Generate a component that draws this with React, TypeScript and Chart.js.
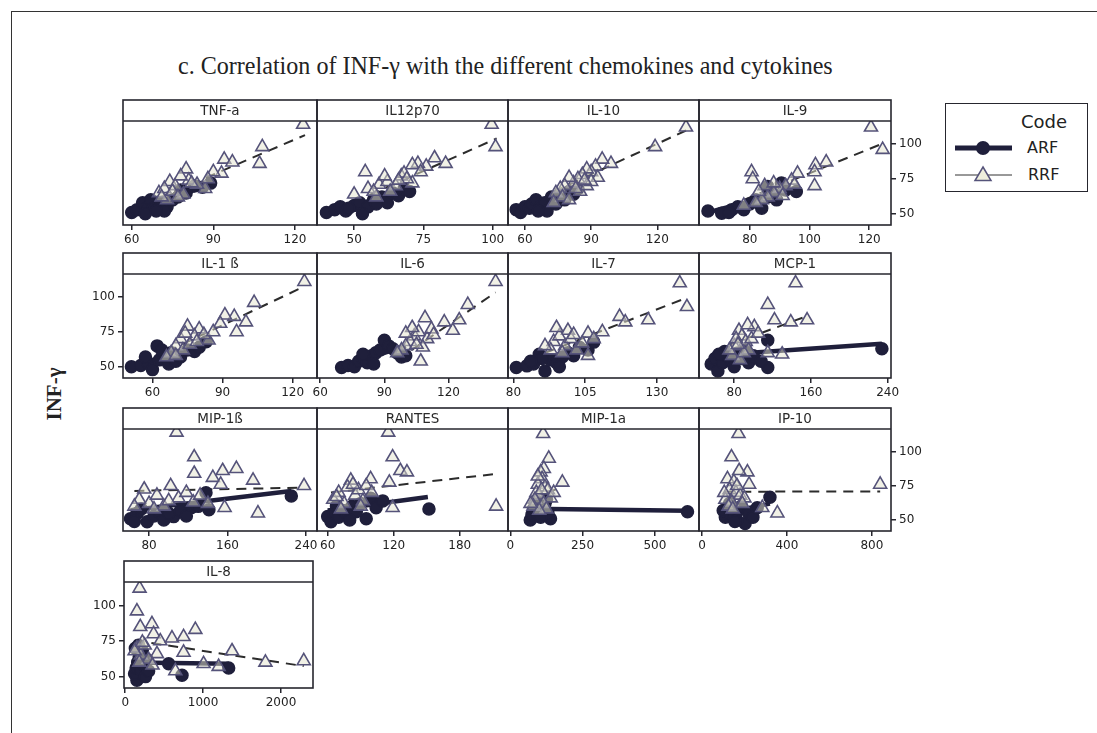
import React, { useEffect, useRef } from "react";
import { Chart, registerables } from "chart.js";

Chart.register(...registerables);

type Pt = [number, number];
type Fit = [number, number, number, number];

// INF-γ axis (shared by every panel)
const yTicks = [50, 75, 100];
const Y_MIN = 42;
const Y_MAX = 116.5;

// TNF-a
const tnfTicks = [60, 90, 120];
const tnfRrf: Pt[] = [[123, 114], [108, 98], [107, 86], [94, 89], [97, 87], [93, 79], [87, 68], [80, 82], [81, 74], [74, 73], [70, 65], [79, 64], [76, 70], [72, 68], [78, 77], [84, 71], [90, 80], [88, 75], [73, 60], [75, 66], [82, 72], [77, 62], [71, 62]];
const tnfArf: Pt[] = [[60, 51], [62, 53], [64, 58], [66, 55], [67, 60], [68, 54], [70, 56], [71, 58], [73, 55], [75, 60], [77, 62], [80, 65], [83, 70], [86, 69], [89, 72], [72, 52], [65, 50], [78, 67], [69, 52]];
const tnfArfFit: Fit = [60, 52, 89, 71];
const tnfRrfFit: Fit = [70, 61.4, 123.7, 106.4];

// IL12p70
const il12Ticks = [50, 75, 100];
const il12Rrf: Pt[] = [[99.6, 114], [101, 98], [83, 86], [79, 90], [76, 84], [73, 86], [71, 72], [54, 80], [50, 64], [59, 71], [67, 77], [71, 85], [55, 68], [62, 73], [65, 70], [68, 79], [58, 62], [63, 66], [69, 75], [74, 80], [61, 77], [57, 66], [66, 74]];
const il12Arf: Pt[] = [[40, 51], [43, 53], [45, 55], [47, 52], [50, 56], [52, 58], [55, 55], [57, 60], [60, 62], [62, 58], [64, 65], [66, 63], [68, 68], [70, 66], [53, 50], [58, 57], [48, 54]];
const il12ArfFit: Fit = [40, 51, 70, 67];
const il12RrfFit: Fit = [50, 58.6, 101.4, 104];

// IL-10
const il10Ticks = [60, 90, 120];
const il10Rrf: Pt[] = [[133, 112], [119, 98], [99, 86], [95, 89], [92, 84], [90, 80], [88, 82], [86, 78], [84, 75], [82, 72], [80, 76], [78, 70], [76, 68], [74, 65], [77, 62], [80, 60], [85, 66], [88, 70], [93, 76], [90, 73], [83, 68], [73, 58], [87, 74]];
const il10Arf: Pt[] = [[56, 53], [58, 51], [60, 55], [62, 54], [63, 57], [65, 60], [67, 55], [69, 58], [70, 52], [72, 62], [74, 57], [76, 63], [78, 60], [80, 66], [82, 64], [84, 68], [66, 52]];
const il10ArfFit: Fit = [56, 52, 84, 67];
const il10RrfFit: Fit = [73, 65.9, 133, 109.7];

// IL-9
const il9Ticks = [80, 100, 120];
const il9Rrf: Pt[] = [[120.6, 112], [124.5, 96], [105.6, 87], [102, 85], [101.7, 80], [101.7, 70], [80.6, 80], [81, 75], [96, 79], [94, 74], [92, 70], [90, 68], [88, 65], [86, 62], [84, 60], [82, 58], [85, 70], [88, 72], [91, 63], [78, 56], [83, 66], [95, 71]];
const il9Arf: Pt[] = [[66, 52], [70.6, 50.5], [74, 53], [78, 53], [80, 57], [84, 54], [82, 60], [86, 62], [86, 69.6], [88, 64], [90.6, 72], [92, 67], [95.6, 66], [76, 55], [73, 51], [89, 60]];
const il9ArfFit: Fit = [66, 51, 96, 68];
const il9RrfFit: Fit = [78, 60, 123.3, 99.3];

// IL-1 ß
const il1bTicks = [60, 90, 120];
const il1bRrf: Pt[] = [[125, 111], [103.5, 96], [96, 75], [100, 82], [95, 86], [91, 87], [89, 81], [80, 77], [75, 79], [84, 69], [78, 72], [72, 70], [70, 65], [68, 60], [73, 62], [76, 66], [82, 73], [86, 75], [66, 57], [70, 58], [79, 68], [74, 74]];
const il1bArf: Pt[] = [[51, 50], [55, 51], [58, 53], [60, 48], [62, 65], [63, 55], [65, 58], [67, 52], [68, 60], [70, 54], [72, 57], [75, 62], [78, 61], [80, 64], [83, 68], [57, 57], [64, 62]];
const il1bArfFit: Fit = [51, 50, 83, 67];
const il1bRrfFit: Fit = [66, 60.9, 125, 107.6];

// IL-6
const il6Ticks = [60, 90, 120];
const il6Rrf: Pt[] = [[142, 111], [129, 94.5], [125, 83.5], [122, 76], [118, 82], [109, 85], [107, 54], [104, 72], [102, 68], [100, 65], [98, 62], [106, 75], [110, 70], [112, 77], [96, 60], [103, 78], [108, 64], [113, 73], [100, 74], [105, 66]];
const il6Arf: Pt[] = [[70, 49.5], [73, 51], [76, 50], [78, 54], [80, 56], [82, 53], [84, 58], [86, 60], [88, 62], [90, 69], [92, 65], [94, 63], [96, 60], [98, 57], [85, 52], [80, 59], [100, 58]];
const il6ArfFit: Fit = [70, 50, 100, 65];
const il6RrfFit: Fit = [96, 55, 142, 103.3];

// IL-7
const il7Ticks = [80, 105, 130];
const il7Rrf: Pt[] = [[138, 110], [140.5, 93], [127, 83.5], [117, 86], [119, 82], [111, 75], [106, 74], [99, 76], [106, 58], [94, 68], [96, 72], [98, 65], [100, 70], [102, 62], [104, 67], [93, 62], [97, 60], [101, 73], [95, 78], [108, 70], [91, 65]];
const il7Arf: Pt[] = [[81, 49.5], [84.7, 50.7], [87, 52], [89, 59], [91, 47], [93, 55], [95, 53], [97, 57], [99, 60], [101, 58], [103, 64], [106, 62], [108, 67.7], [90, 56], [96, 50], [86, 54]];
const il7ArfFit: Fit = [81, 50, 108, 66];
const il7RrfFit: Fit = [91, 60, 140.5, 99.5];

// MCP-1
const mcpTicks = [80, 160, 240];
const mcpRrf: Pt[] = [[144, 110], [115, 94.5], [122, 83.5], [139, 82], [156, 83.5], [101, 78.6], [85, 76], [115, 60], [130, 59], [88, 72], [92, 68], [80, 65], [95, 62], [78, 58], [86, 55], [98, 70], [82, 70], [90, 60], [105, 74], [75, 62], [94, 80], [84, 66]];
const mcpArf: Pt[] = [[234, 63], [115, 49.5], [56, 52], [63, 47], [115, 69], [60, 56], [68, 53], [72, 58], [76, 55], [80, 50], [84, 60], [88, 56], [95, 53], [100, 58], [108, 54], [70, 61], [92, 62], [64, 59]];
const mcpArfFit: Fit = [56, 58.1, 234, 66.5];
const mcpRrfFit: Fit = [75, 65.8, 156, 86.4];

// MIP-1ß
const mip1bTicks = [80, 160, 240];
const mip1bRrf: Pt[] = [[108, 114], [126, 96], [126, 84], [145, 81], [155, 86], [169, 87.5], [153, 76], [186, 79], [238, 75], [157, 59], [191, 55], [75, 72.5], [102, 75], [70, 65], [80, 62], [88, 68], [95, 60], [110, 66], [118, 70], [125, 63], [132, 68], [140, 62], [85, 58], [100, 64], [65, 60]];
const mip1bArf: Pt[] = [[225, 67.5], [61, 51], [78, 48.7], [138, 70], [141, 57.5], [123, 59], [105, 52.5], [68, 55], [72, 58], [85, 53], [90, 56], [95, 50], [100, 55], [112, 57], [118, 53], [130, 60], [65, 49]];
const mip1bArfFit: Fit = [61, 57.1, 225, 71.2];
const mip1bRrfFit: Fit = [65, 71.3, 238, 73.7];

// RANTES
const rantesTicks = [60, 120, 180];
const rantesRrf: Pt[] = [[115, 114], [119, 96], [126, 86], [132, 85], [116, 77.5], [119, 59], [99, 80], [81, 79], [213, 60], [65, 65], [70, 70], [75, 62], [78, 74], [85, 68], [88, 72], [92, 64], [95, 75], [72, 58], [68, 67], [90, 60], [83, 76], [100, 70]];
const rantesArf: Pt[] = [[60, 52.5], [63, 48.7], [95, 51], [99, 66], [152, 58], [66, 55], [70, 52], [74, 57], [78, 54], [82, 60], [86, 56], [90, 62], [104, 59], [110, 64], [68, 60], [80, 50]];
const rantesArfFit: Fit = [60, 57, 151, 66.8];
const rantesRrfFit: Fit = [63, 70.1, 213, 83.7];

// MIP-1a
const mip1aTicks = [0, 250, 500];
const mip1aRrf: Pt[] = [[113.5, 113], [133, 95], [180, 77.5], [116, 87.5], [105, 85], [110, 80], [95, 76], [120, 74], [90, 70], [100, 68], [130, 72], [85, 65], [140, 66], [115, 62], [80, 60], [125, 58], [100, 57], [70, 62], [150, 70], [95, 82], [108, 72]];
const mip1aArf: Pt[] = [[69, 50], [139, 51], [613, 56], [75, 54], [85, 57], [95, 53], [100, 60], [110, 56], [120, 62], [130, 55], [90, 64], [80, 58], [105, 52], [115, 59], [125, 65]];
const mip1aArfFit: Fit = [69, 58.3, 613, 56.8];
const mip1aRrfFit: Fit = [70, 66, 180, 74];

// IP-10
const ip10Ticks = [0, 400, 800];
const ip10Rrf: Pt[] = [[172, 113], [139, 96], [214, 85], [175, 86], [222, 76], [839, 76], [355, 55], [284, 59], [120, 80], [150, 78], [130, 72], [160, 70], [180, 68], [110, 65], [140, 63], [200, 66], [125, 60], [165, 75], [190, 62], [105, 70], [145, 58]];
const ip10Arf: Pt[] = [[320, 66.7], [203, 47.5], [164, 50], [110, 52], [120, 55], [135, 58], [150, 53], [170, 57], [185, 60], [220, 55], [240, 52], [130, 62], [100, 57], [155, 49], [260, 59]];
const ip10ArfFit: Fit = [100, 55, 320, 62];
const ip10RrfFit: Fit = [105, 70.7, 839, 70.9];

// IL-8
const il8Ticks = [0, 1000, 2000];
const il8Rrf: Pt[] = [[184, 112], [150, 96], [193, 85], [343, 87], [364, 80], [450, 75], [600, 77], [749, 78], [900, 83], [1371, 68], [1800, 60], [2292, 61], [1006, 59], [1199, 57], [643, 54], [749, 67], [407, 66], [150, 70], [200, 65], [250, 72], [300, 62], [180, 60], [120, 68], [350, 58], [220, 74]];
const il8Arf: Pt[] = [[729, 51], [1328, 56], [150, 47.5], [557, 59], [120, 52], [140, 56], [160, 60], [180, 64], [200, 55], [220, 68], [240, 58], [260, 50], [280, 62], [130, 70], [300, 54], [170, 72]];
const il8ArfFit: Fit = [120, 60, 1328, 59];
const il8RrfFit: Fit = [120, 75.4, 2292, 57.4];

type Side = "left" | "right" | null;

interface PanelSpec {
  name: string;
  arf: Pt[];
  rrf: Pt[];
  arfFit: Fit;
  rrfFit: Fit;
  xMin: number;
  xMax: number;
  xTicks: number[];
  left: number;
  top: number;
  width: number;
  height: number;
  yAxis: Side;
}

const INK = "#26262e";
const ARF_COLOR = "#1f1f3b";
const TRI_FILL = "rgba(228,228,206,0.5)";
const TRI_EDGE = "#55537a";
const FONT = "'DejaVu Sans', Verdana, sans-serif";
const STRIP = 21;
const SIDE = 40;
const XAXIS_H = 34;

const colX = [123, 317, 508, 699];
const colW = [194, 191, 191, 192];
const rowTop = [121, 274, 429, 582];
const rowH = [104, 104, 102, 106];

const cell = (r: number, c: number) => ({
  left: colX[c],
  top: rowTop[r],
  width: colW[c],
  height: rowH[r],
});

const panels: PanelSpec[] = [
  { name: "TNF-a", arf: tnfArf, rrf: tnfRrf, arfFit: tnfArfFit, rrfFit: tnfRrfFit, xMin: 56.8, xMax: 128.1, xTicks: tnfTicks, ...cell(0, 0), yAxis: null },
  { name: "IL12p70", arf: il12Arf, rrf: il12Rrf, arfFit: il12ArfFit, rrfFit: il12RrfFit, xMin: 36.6, xMax: 105.5, xTicks: il12Ticks, ...cell(0, 1), yAxis: null },
  { name: "IL-10", arf: il10Arf, rrf: il10Rrf, arfFit: il10ArfFit, rrfFit: il10RrfFit, xMin: 52.3, xMax: 138.9, xTicks: il10Ticks, ...cell(0, 2), yAxis: null },
  { name: "IL-9", arf: il9Arf, rrf: il9Rrf, arfFit: il9ArfFit, rrfFit: il9RrfFit, xMin: 63, xMax: 127.3, xTicks: il9Ticks, ...cell(0, 3), yAxis: "right" },
  { name: "IL-1 ß", arf: il1bArf, rrf: il1bRrf, arfFit: il1bArfFit, rrfFit: il1bRrfFit, xMin: 47.4, xMax: 130.4, xTicks: il1bTicks, ...cell(1, 0), yAxis: "left" },
  { name: "IL-6", arf: il6Arf, rrf: il6Rrf, arfFit: il6ArfFit, rrfFit: il6RrfFit, xMin: 58.5, xMax: 147.8, xTicks: il6Ticks, ...cell(1, 1), yAxis: null },
  { name: "IL-7", arf: il7Arf, rrf: il7Rrf, arfFit: il7ArfFit, rrfFit: il7RrfFit, xMin: 78.1, xMax: 144.7, xTicks: il7Ticks, ...cell(1, 2), yAxis: null },
  { name: "MCP-1", arf: mcpArf, rrf: mcpRrf, arfFit: mcpArfFit, rrfFit: mcpRrfFit, xMin: 43.3, xMax: 243.5, xTicks: mcpTicks, ...cell(1, 3), yAxis: null },
  { name: "MIP-1ß", arf: mip1bArf, rrf: mip1bRrf, arfFit: mip1bArfFit, rrfFit: mip1bRrfFit, xMin: 53.4, xMax: 251.2, xTicks: mip1bTicks, ...cell(2, 0), yAxis: null },
  { name: "RANTES", arf: rantesArf, rrf: rantesRrf, arfFit: rantesArfFit, rrfFit: rantesRrfFit, xMin: 50.3, xMax: 223.8, xTicks: rantesTicks, ...cell(2, 1), yAxis: null },
  { name: "MIP-1a", arf: mip1aArf, rrf: mip1aRrf, arfFit: mip1aArfFit, rrfFit: mip1aRrfFit, xMin: -8, xMax: 652.8, xTicks: mip1aTicks, ...cell(2, 2), yAxis: null },
  { name: "IP-10", arf: ip10Arf, rrf: ip10Rrf, arfFit: ip10ArfFit, rrfFit: ip10RrfFit, xMin: -14, xMax: 890, xTicks: ip10Ticks, ...cell(2, 3), yAxis: "right" },
  { name: "IL-8", arf: il8Arf, rrf: il8Rrf, arfFit: il8ArfFit, rrfFit: il8RrfFit, xMin: -16, xMax: 2411, xTicks: il8Ticks, left: 124, top: 582, width: 189, height: 106, yAxis: "left" },
];

// Draws the panel frame and the strip header holding the panel's name.
const stripPlugin = {
  id: "panelStrip",
  afterDraw(chart: any, _args: any, opts: any) {
    const { ctx, chartArea: a } = chart;
    ctx.save();
    ctx.strokeStyle = INK;
    ctx.lineWidth = 1.6;
    ctx.strokeRect(a.left, a.top - STRIP, a.right - a.left, a.bottom - a.top + STRIP);
    ctx.beginPath();
    ctx.moveTo(a.left, a.top);
    ctx.lineTo(a.right, a.top);
    ctx.stroke();
    ctx.fillStyle = "#2a2a2a";
    ctx.font = `13.5px ${FONT}`;
    ctx.textAlign = "center";
    ctx.textBaseline = "middle";
    ctx.fillText(opts.label, (a.left + a.right) / 2, a.top - STRIP / 2 + 1);
    ctx.restore();
  },
};

const toPts = (arr: Pt[]) => arr.map(([x, y]) => ({ x, y }));
const fitPts = (f: Fit) => [
  { x: f[0], y: f[1] },
  { x: f[2], y: f[3] },
];

function Panel({ spec }: { spec: PanelSpec }) {
  const ref = useRef<HTMLCanvasElement | null>(null);
  const w = spec.width + SIDE * 2;
  const h = spec.height + STRIP + 2 + XAXIS_H;

  useEffect(() => {
    if (!ref.current) return;
    const showY = spec.yAxis !== null;
    const yPos = spec.yAxis === "right" ? "right" : "left";
    const chart = new Chart(ref.current, {
      type: "scatter",
      data: {
        datasets: [
          {
            label: "RRF",
            data: toPts(spec.rrf),
            pointStyle: "triangle",
            pointRadius: 7.5,
            backgroundColor: TRI_FILL,
            borderColor: TRI_EDGE,
            borderWidth: 1.6,
          },
          {
            label: "ARF",
            data: toPts(spec.arf),
            pointStyle: "circle",
            pointRadius: 6,
            backgroundColor: ARF_COLOR,
            borderColor: ARF_COLOR,
            borderWidth: 1.5,
          },
          {
            label: "ARF fit",
            data: fitPts(spec.arfFit),
            showLine: true,
            pointRadius: 0,
            borderColor: ARF_COLOR,
            borderWidth: 4.5,
          },
          {
            label: "RRF fit",
            data: fitPts(spec.rrfFit),
            showLine: true,
            pointRadius: 0,
            borderColor: "#2c2c2c",
            borderWidth: 2,
            borderDash: [10, 7],
          },
        ],
      },
      options: {
        animation: false,
        responsive: false,
        events: [],
        layout: {
          padding: {
            top: STRIP + 2,
            bottom: 0,
            left: yPos === "right" ? SIDE : 0,
            right: yPos === "right" ? 0 : SIDE,
          },
        },
        plugins: {
          legend: { display: false },
          tooltip: { enabled: false },
          panelStrip: { label: spec.name },
        } as any,
        scales: {
          x: {
            type: "linear",
            min: spec.xMin,
            max: spec.xMax,
            position: "bottom",
            afterFit: (s: any) => {
              s.height = XAXIS_H;
            },
            afterBuildTicks: (s: any) => {
              s.ticks = spec.xTicks.map((v) => ({ value: v }));
            },
            ticks: {
              font: { family: FONT, size: 12 },
              color: "#222",
              padding: 3,
              maxRotation: 0,
              autoSkip: false,
              callback: (v: any) => String(v),
            },
            grid: {
              drawOnChartArea: false,
              drawTicks: true,
              tickLength: 5,
              color: INK,
              lineWidth: 1.5,
            },
            border: { display: false },
          },
          y: {
            type: "linear",
            min: Y_MIN,
            max: Y_MAX,
            position: yPos,
            afterFit: (s: any) => {
              s.width = SIDE;
            },
            afterBuildTicks: (s: any) => {
              s.ticks = yTicks.map((v) => ({ value: v }));
            },
            ticks: {
              display: showY,
              font: { family: FONT, size: 12 },
              color: "#222",
              padding: 3,
              callback: (v: any) => String(v),
            },
            grid: {
              display: showY,
              drawOnChartArea: false,
              drawTicks: true,
              tickLength: 5,
              color: INK,
              lineWidth: 1.5,
            },
            border: { display: false },
          },
        },
      } as any,
      plugins: [stripPlugin],
    });
    return () => chart.destroy();
  }, [spec]);

  return (
    <canvas
      ref={ref}
      width={w}
      height={h}
      style={{
        position: "absolute",
        left: spec.left - SIDE,
        top: spec.top - STRIP - 2,
        width: w,
        height: h,
      }}
    />
  );
}

function Legend() {
  return (
    <div
      style={{
        position: "absolute",
        left: 945,
        top: 103,
        width: 143,
        height: 89,
        border: `1.5px solid ${INK}`,
        boxSizing: "border-box",
        fontFamily: FONT,
        color: "#222",
        background: "#fff",
      }}
    >
      <div style={{ position: "absolute", right: 20, top: 7, fontSize: 18, lineHeight: "22px" }}>Code</div>
      <svg style={{ position: "absolute", left: 0, top: 0 }} width={143} height={89}>
        <line x1={9} y1={44} x2={66} y2={44} stroke={ARF_COLOR} strokeWidth={5} />
        <circle cx={37} cy={44} r={7} fill={ARF_COLOR} />
        <line x1={9} y1={71} x2={66} y2={71} stroke="#333" strokeWidth={1} />
        <polygon points="37,63 45,76.5 29,76.5" fill="#eeeedc" stroke={TRI_EDGE} strokeWidth={1.5} />
      </svg>
      <div style={{ position: "absolute", left: 81, top: 34, fontSize: 16, lineHeight: "20px" }}>ARF</div>
      <div style={{ position: "absolute", left: 82, top: 61, fontSize: 16, lineHeight: "20px" }}>RRF</div>
    </div>
  );
}

export default function App() {
  return (
    <div
      style={{
        position: "fixed",
        left: 0,
        top: 0,
        width: 1097,
        height: 733,
        background: "#fff",
        overflow: "hidden",
      }}
    >
      <div style={{ position: "absolute", left: 11, top: 11, width: 1086, borderTop: "1.5px solid #333" }} />
      <div style={{ position: "absolute", left: 11, top: 11, height: 722, borderLeft: "1.5px solid #333" }} />
      <div
        style={{
          position: "absolute",
          left: 178,
          top: 53,
          fontFamily: "'Liberation Serif', 'Times New Roman', serif",
          fontSize: 26,
          lineHeight: "26px",
          color: "#222",
          whiteSpace: "nowrap",
          transform: "scaleX(0.926)",
          transformOrigin: "left center",
        }}
      >
        c. Correlation of INF-γ with the different chemokines and cytokines
      </div>
      <div
        style={{
          position: "absolute",
          left: 54,
          top: 394,
          transform: "translate(-50%, -50%) rotate(-90deg)",
          fontFamily: "'Liberation Serif', 'Times New Roman', serif",
          fontWeight: "bold",
          fontSize: 21,
          whiteSpace: "nowrap",
          color: "#222",
        }}
      >
        INF-γ
      </div>
      {panels.map((p) => (
        <Panel key={p.name} spec={p} />
      ))}
      <Legend />
    </div>
  );
}
